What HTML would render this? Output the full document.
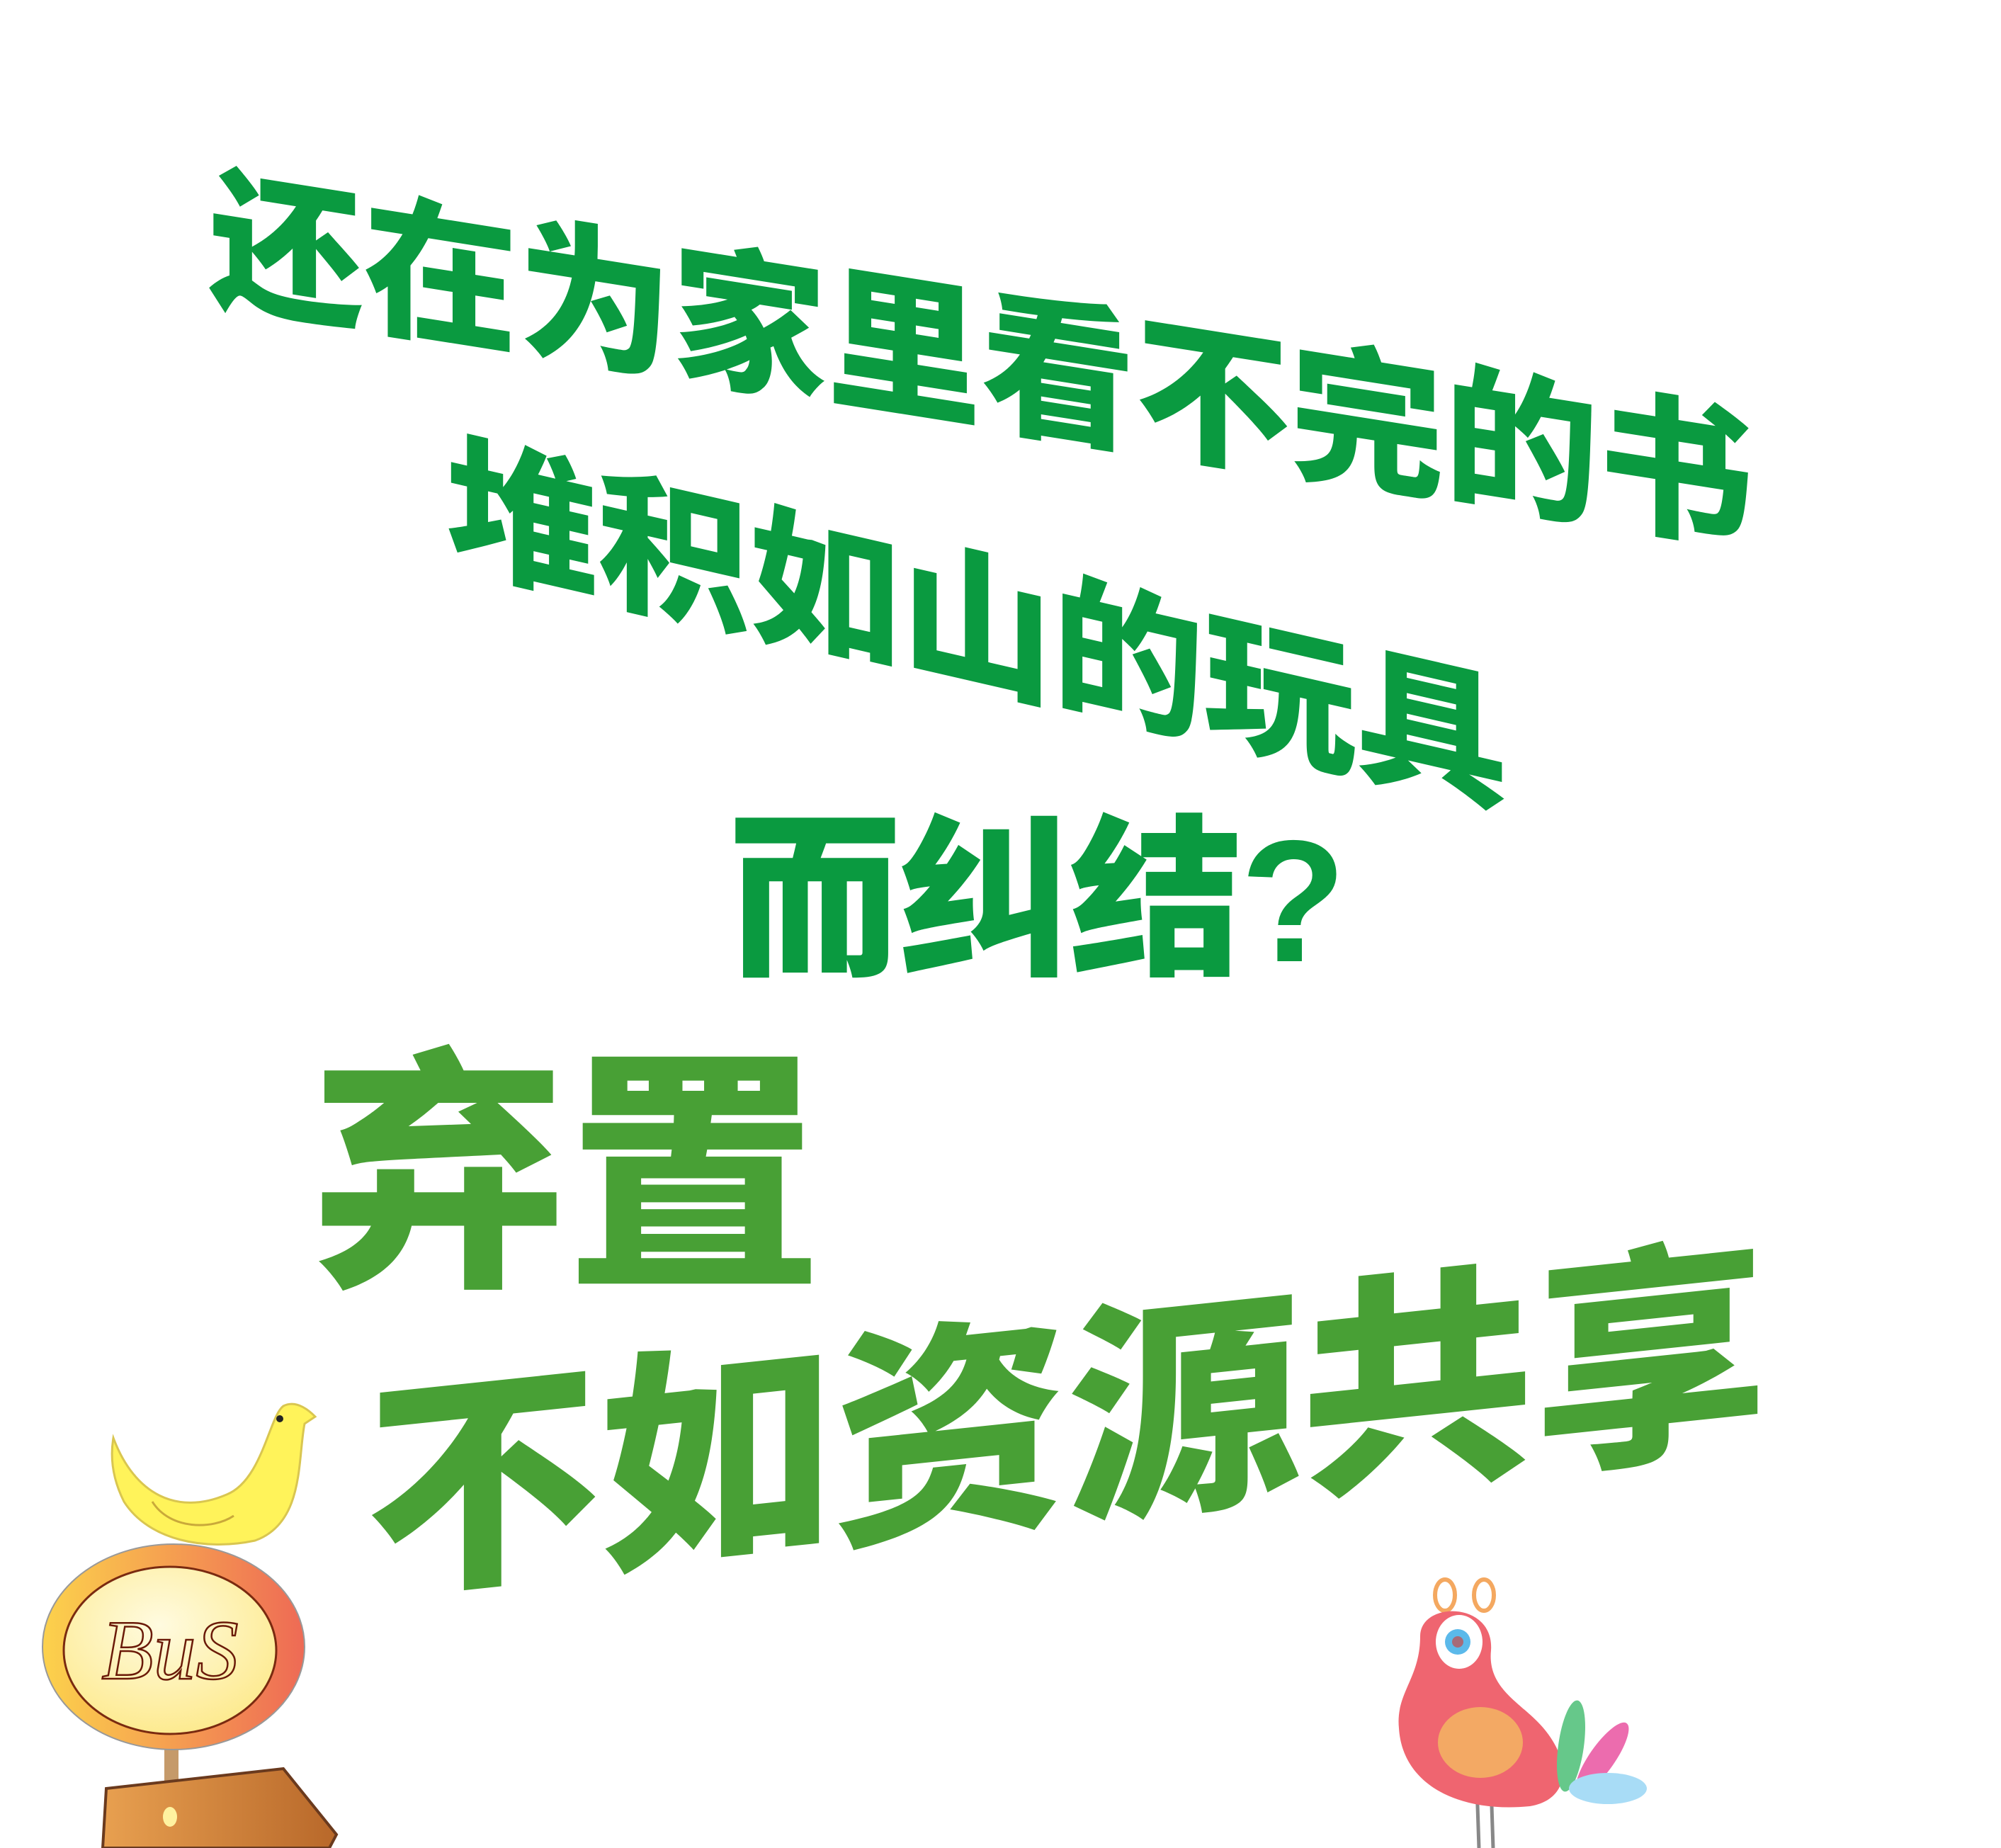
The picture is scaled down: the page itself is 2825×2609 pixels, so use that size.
<!DOCTYPE html>
<html><head><meta charset="utf-8">
<style>
html,body{margin:0;padding:0;background:#fff;}
#page{position:relative;width:2825px;height:2609px;overflow:hidden;background:#fff;}
.t{position:absolute;white-space:nowrap;line-height:1;font-family:"Liberation Sans","Noto Sans CJK SC",sans-serif;font-weight:900;transform-origin:0 0;}
.g1{color:#0a9a40;}
.g2{color:#48a035;}
svg{position:absolute;left:0;top:0;}
</style></head>
<body>
<div id="page">
  <div class="t g1" style="left:295px;top:232px;font-size:218px;letter-spacing:0px;transform:skewY(9deg);">还在为家里看不完的书</div>
  <div class="t g1" style="left:630px;top:605px;font-size:214px;letter-spacing:0px;transform:skewY(13deg);">堆积如山的玩具</div>
  <div class="t g1" style="left:1028px;top:1150px;font-size:245px;letter-spacing:-4px;">而纠结?</div>
  <div class="t g2" style="left:440px;top:1483px;font-size:360px;letter-spacing:0px;">弃置</div>
  <div class="t g2" style="left:516px;top:1950px;font-size:330px;letter-spacing:0px;transform:skewY(-6deg);">不如资源共享</div>

  <svg width="2825" height="2609" viewBox="0 0 2825 2609">
    <defs>
      <radialGradient id="signIn" cx="0.45" cy="0.35" r="0.7">
        <stop offset="0" stop-color="#fffbe0"/><stop offset="1" stop-color="#fde98a"/>
      </radialGradient>
      <linearGradient id="signRing" x1="0" x2="1">
        <stop offset="0" stop-color="#fcd24c"/><stop offset="1" stop-color="#ee6a55"/>
      </linearGradient>
      <linearGradient id="board" x1="0" x2="1">
        <stop offset="0" stop-color="#e8a050"/><stop offset="1" stop-color="#b8682a"/>
      </linearGradient>
    </defs>
    <g>
      <path d="M160,2030 C190,2110 250,2140 320,2110 C370,2090 380,2000 400,1985 C420,1975 440,1995 445,2000 L430,2010 C420,2060 430,2150 360,2175 C290,2190 210,2175 175,2120 C160,2090 155,2060 160,2030 Z" fill="#fff35a" stroke="#d9c650" stroke-width="3"/>
      <circle cx="395" cy="2003" r="5" fill="#222"/>
      <path d="M215,2120 C240,2160 300,2160 330,2140" fill="none" stroke="#c9a93a" stroke-width="3"/>
    </g>
    <g>
      <rect x="232" y="2465" width="20" height="70" fill="#c59a6a"/>
      <ellipse cx="245" cy="2325" rx="185" ry="145" fill="url(#signRing)" stroke="#999" stroke-width="2"/>
      <ellipse cx="240" cy="2330" rx="150" ry="118" fill="url(#signIn)" stroke="#7a2a10" stroke-width="3"/>
      <text x="240" y="2370" text-anchor="middle" font-family="Liberation Serif, serif" font-size="120" fill="none" stroke="#6a1a08" stroke-width="2.5" font-style="italic">BuS</text>
      <path d="M150,2525 L400,2497 L475,2590 L465,2609 L145,2609 Z" fill="url(#board)" stroke="#6a3a1e" stroke-width="4"/>
      <ellipse cx="240" cy="2565" rx="10" ry="14" fill="#fff2a0"/>
    </g>
    <g>
      <ellipse cx="2040" cy="2252" rx="14" ry="22" fill="none" stroke="#f4a860" stroke-width="6"/>
      <ellipse cx="2095" cy="2252" rx="14" ry="22" fill="none" stroke="#f4a860" stroke-width="6"/>
      <line x1="2085" y1="2520" x2="2088" y2="2609" stroke="#888" stroke-width="5"/>
      <line x1="2105" y1="2520" x2="2108" y2="2609" stroke="#888" stroke-width="5"/>
      <path d="M2005,2310 C2005,2260 2110,2260 2105,2330 C2100,2380 2140,2400 2170,2430 C2220,2480 2220,2540 2160,2550 C2060,2560 1980,2520 1975,2440 C1970,2390 2005,2370 2005,2310 Z" fill="#ef6570"/>
      <ellipse cx="2060" cy="2318" rx="33" ry="38" fill="#fff"/>
      <circle cx="2058" cy="2318" r="18" fill="#5bb9ea"/>
      <circle cx="2058" cy="2318" r="8" fill="#a76a78"/>
      <ellipse cx="2090" cy="2460" rx="60" ry="50" fill="#f3a964"/>
      <ellipse cx="2218" cy="2465" rx="18" ry="65" fill="#66c88a" transform="rotate(8 2218 2465)"/>
      <ellipse cx="2262" cy="2482" rx="18" ry="60" fill="#ec6cae" transform="rotate(35 2262 2482)"/>
      <ellipse cx="2270" cy="2525" rx="55" ry="22" fill="#a8dcf6"/>
    </g>
  </svg>
</div>
</body></html>
